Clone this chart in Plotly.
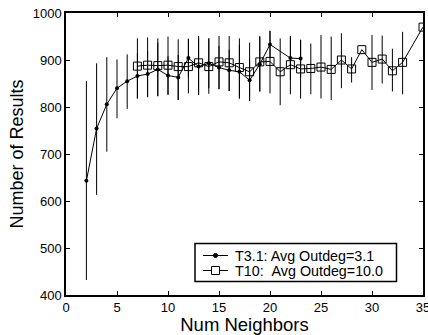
import plotly.graph_objects as go

# T3.1 series
t3_x = [2, 3, 4, 5, 6, 7, 8, 9, 10, 11, 12, 13, 14, 15, 16, 17, 18, 19, 20, 22, 23]
t3_y = [643, 754, 806, 840, 855, 866, 870, 880, 867, 863, 904, 886, 893, 884, 878, 875, 857, 891, 933, 904, 903]
t3_err_plus = [212, 139, 100, 61, 57, 48, 49, 57, 41, 48, 41, 60, 53, 46, 44, 57, 44, 58, 29, 47, 40]
t3_err_minus = [211, 141, 101, 64, 59, 48, 49, 57, 41, 48, 41, 60, 53, 46, 44, 57, 44, 58, 29, 47, 40]

# T10 series
t10_x = [7, 8, 9, 10, 11, 12, 13, 14, 15, 16, 17, 18, 19, 20, 21, 22, 23, 24, 25, 26, 27, 28, 29, 30, 31, 32, 33, 35]
t10_y = [887, 889, 888, 889, 886, 886, 894, 886, 896, 894, 884, 875, 896, 897, 875, 890, 881, 882, 885, 880, 900, 881, 922, 895, 902, 877, 895, 970]
t10_err_plus = [59, 59, 58, 61, 58, 59, 57, 60, 55, 57, 62, 62, 55, 65, 71, 61, 62, 53, 68, 70, 57, 25, 0, 58, 50, 47, 65, 0]
t10_err_minus = [69, 68, 65, 63, 71, 57, 68, 58, 58, 60, 66, 62, 63, 68, 71, 63, 63, 55, 67, 65, 60, 29, 0, 59, 52, 44, 68, 0]

series_names = ["T3.1: Avg Outdeg=3.1", "T10:\u00a0\u00a0Avg Outdeg=10.0"]

x_ticks = [0, 5, 10, 15, 20, 25, 30, 35]
y_ticks = [400, 500, 600, 700, 800, 900, 1000]

FONT = "Liberation Sans, Arial, Helvetica, sans-serif"

W, H = 428, 335
ML, MR, MT, MB = 66, 5, 13, 40
PW, PH = W - ML - MR, H - MT - MB


def px_x(px):
    return (px - ML) / PW


def px_y(py):
    return (H - MB - py) / PH


fig = go.Figure()
fig.add_trace(go.Scatter(
    x=t3_x, y=t3_y, mode="lines+markers",
    name=series_names[0],
    line=dict(color="black", width=1),
    marker=dict(symbol="circle", size=4, color="black"),
    error_y=dict(type="data", array=t3_err_plus, arrayminus=t3_err_minus,
                 color="black", thickness=1, width=0, symmetric=False),
))
fig.add_trace(go.Scatter(
    x=t10_x, y=t10_y, mode="lines+markers",
    name=series_names[1],
    line=dict(color="black", width=1),
    marker=dict(symbol="square-open", size=8, color="black", line=dict(width=1)),
    error_y=dict(type="data", array=t10_err_plus, arrayminus=t10_err_minus,
                 color="black", thickness=1, width=0, symmetric=False),
))

# Manual legend (compact, like the reference)
shapes = [
    dict(type="rect", xref="paper", yref="paper",
         x0=px_x(195), x1=px_x(396.5), y0=px_y(281.5), y1=px_y(243.5),
         line=dict(color="black", width=1.5), fillcolor="white", layer="above"),
]
annotations = []
rows = [255.5, 270.5]
for i, ry in enumerate(rows):
    shapes.append(dict(type="line", xref="paper", yref="paper",
                       x0=px_x(203), x1=px_x(228), y0=px_y(ry), y1=px_y(ry),
                       line=dict(color="black", width=1), layer="above"))
    annotations.append(dict(xref="paper", yref="paper", x=px_x(233), y=px_y(ry),
                            xanchor="left", yanchor="middle", showarrow=False,
                            text=series_names[i],
                            font=dict(family=FONT, size=14.3, color="black")))
# legend markers
shapes.append(dict(type="circle", xref="paper", yref="paper",
                   xsizemode="pixel", ysizemode="pixel",
                   xanchor=px_x(215.5), yanchor=px_y(rows[0]),
                   x0=-2, x1=2, y0=-2, y1=2,
                   line=dict(color="black", width=1), fillcolor="black", layer="above"))
shapes.append(dict(type="rect", xref="paper", yref="paper",
                   xsizemode="pixel", ysizemode="pixel",
                   xanchor=px_x(215.5), yanchor=px_y(rows[1]),
                   x0=-4, x1=4, y0=-4, y1=4,
                   line=dict(color="black", width=1), fillcolor="white", layer="above"))

fig.update_layout(
    width=W, height=H,
    margin=dict(l=ML, r=MR, t=MT, b=MB, pad=0),
    paper_bgcolor="white", plot_bgcolor="white",
    font=dict(family=FONT, size=13, color="black"),
    showlegend=False,
    shapes=shapes,
    annotations=annotations,
)
fig.update_xaxes(
    range=[0, 35], tickvals=x_ticks, ticktext=[str(v) for v in x_ticks],
    ticks="inside", ticklen=4, tickcolor="black",
    showline=True, linecolor="black", linewidth=1.5, mirror="ticks",
    showgrid=False, zeroline=False,
    title=dict(text="Num Neighbors", font=dict(size=18.5, family=FONT), standoff=0),
    tickfont=dict(size=13, family=FONT),
    ticklabeloverflow="allow",
    automargin=False,
)
fig.update_yaxes(
    range=[400, 1000], tickvals=y_ticks, ticktext=[str(v) for v in y_ticks],
    ticks="inside", ticklen=4, tickcolor="black",
    showline=True, linecolor="black", linewidth=1.5, mirror="ticks",
    showgrid=False, zeroline=False,
    title=dict(text="Number of Results", font=dict(size=18, family=FONT), standoff=4),
    tickfont=dict(size=13, family=FONT),
    ticklabeloverflow="allow",
    automargin=False,
)

fig.write_html("out.html", config={"displayModeBar": False},
               post_script="document.body.style.margin='0px';")
